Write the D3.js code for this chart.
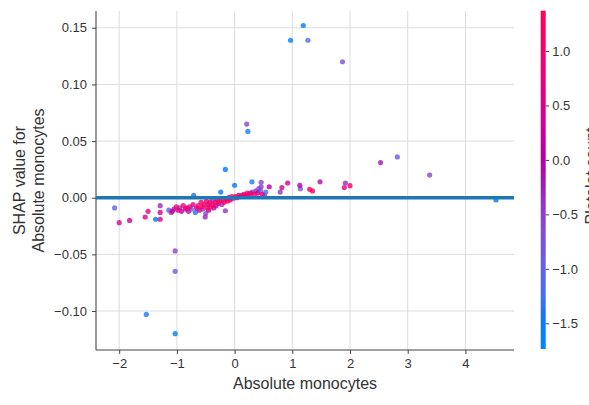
<!DOCTYPE html>
<html>

<head>
  <meta charset="utf-8">
  <title>SHAP dependence plot</title>
  <script src="https://d3js.org/d3.v7.min.js"></script>
  <style type="text/css">
    body {
      margin: 0;
      background: #fff;
      overflow: hidden;
    }

    svg text {
      font-family: "Liberation Sans", Arial, sans-serif;
      fill: #333;
    }

    .grid line {
      stroke: #dcdcdc;
      stroke-width: 1;
    }
  </style>
</head>

<body>
  <svg id="chart"></svg>
  <script>
    // values (feature value, SHAP value, platelet count)
    var xVals = [
      -2.08, -2.00, -1.82, -1.55, -1.50, -1.37, -1.29, -1.29, -1.29, -1.14,
      -1.10, -1.08, -1.05, -1.03, -1.03, -1.53, -1.03, -1.01, -0.98, -0.95,
      -0.92, -0.89, -0.85, -0.83, -0.80, -0.78, -0.75, -0.72, -0.71, -0.68,
      -0.66, -0.63, -0.61, -0.58, -0.56, -0.55, -0.53, -0.51, -0.50, -0.49,
      -0.47, -0.46, -0.45, -0.43, -0.41, -0.39, -0.38, -0.36, -0.34, -0.32,
      -0.30, -0.28, -0.26, -0.24, -0.22, -0.20, -0.18, -0.16, -0.16, -0.14,
      -0.12, -0.10, -0.08, -0.05, -0.03, 0.00, 0.01, 0.04, 0.07, 0.10,
      0.13, 0.16, 0.19, 0.21, 0.23, 0.22, 0.25, 0.28, 0.30, 0.31,
      0.34, 0.37, 0.40, 0.42, 0.45, 0.46, 0.46, 0.48, 0.52, 0.54,
      0.60, 0.79, 0.82, 0.92, 0.97, 1.13, 1.14, 1.19, 1.27, 1.30,
      1.35, 1.48, 1.87, 1.90, 1.92, 2.00, 2.53, 2.82, 3.38, 4.53
    ];
    var shapVals = [
      -0.009, -0.022, -0.020, -0.017, -0.012, -0.019, -0.019, -0.013, -0.007, -0.011,
      -0.013, -0.012, -0.010, -0.047, -0.065, -0.103, -0.120, -0.008, -0.011, -0.009,
      -0.012, -0.007, -0.010, -0.009, -0.012, -0.008, -0.010, -0.006, 0.002, -0.013,
      -0.009, -0.007, -0.011, -0.004, -0.008, -0.010, -0.006, -0.017, -0.014, -0.003,
      -0.009, -0.006, -0.011, -0.004, -0.008, -0.002, -0.006, -0.009, -0.004, -0.007,
      -0.002, -0.005, -0.003, 0.005, -0.006, -0.002, -0.004, 0.025, -0.0115, -0.001,
      -0.003, 0.000, -0.002, 0.001, -0.001, 0.011, 0.001, 0.000, 0.002, 0.001,
      0.002, 0.003, 0.002, 0.065, 0.0585, 0.004, 0.003, 0.004, 0.014, 0.005,
      0.003, 0.006, 0.004, 0.008, 0.006, 0.0136, 0.0097, 0.003, 0.002, 0.005,
      0.0097, 0.005, 0.009, 0.013, 0.139, 0.011, 0.008, 0.152, 0.139, 0.0074,
      0.006, 0.014, 0.120, 0.009, 0.013, 0.0106, 0.031, 0.036, 0.020, -0.002
    ];
    var plateletVals = [
      -1.0, 0.5, 0.4, 0.5, 0.6, -1.5, 0.5, 0.4, -0.3, -1.0,
      -0.6, 0.3, -0.2, -0.6, -0.9, -1.4, -1.5, 0.8, 0.6, -0.4,
      0.2, 1.0, 0.7, 0.3, -0.2, 0.9, -0.7, 0.5, -1.4, -1.4,
      0.1, 1.1, 0.4, 0.8, 1.2, -0.5, 1.0, -0.3, -0.6, 0.9,
      1.3, 0.6, 0.2, 1.1, 0.7, -0.5, 1.2, 0.3, 0.9, -0.2,
      1.0, 0.5, 1.3, -1.5, -0.4, 0.8, 1.1, -1.5, -0.4, 0.6,
      1.2, 0.2, 0.9, 1.0, -0.6, -1.5, 1.3, 0.7, 0.4, 1.1,
      -0.3, 0.9, 0.2, -0.6, -1.4, 1.2, -0.5, 0.6, -1.4, -0.8,
      1.0, -0.4, 0.3, -0.7, -0.9, -0.6, -0.5, 0.8, -1.2, -1.3,
      0.0, -0.4, 0.4, 0.3, -1.6, 0.0, -0.8, -1.5, -1.1, 1.2,
      1.2, -0.1, -0.7, 0.8, -0.3, 1.1, -0.2, -0.9, -0.6, -1.5
    ];

    var xTicks = [-2, -1, 0, 1, 2, 3, 4];
    var yTicks = [-0.10, -0.05, 0.00, 0.05, 0.10, 0.15];
    var cbTicks = [-1.5, -1.0, -0.5, 0.0, 0.5, 1.0];

    var xLabel = "Absolute monocytes";
    var yLabelLines = ["SHAP value for", "Absolute monocytes"];
    var cbLabel = "Platelet count";

    var W = 589, H = 405;
    var margin = { top: 11, right: 75, bottom: 55, left: 96 };
    var width = W - margin.left - margin.right,
      height = H - margin.top - margin.bottom;

    var minus = function (s) { return s.replace("-", "\u2212"); };

    // shap red_blue colour map (lch, lightness dips in the middle)
    function shapColor(t) {
      t = Math.max(0, Math.min(1, t));
      var l = t < 0.5 ? 54 + (40 - 54) * (t / 0.5) : 40 + (54 - 40) * ((t - 0.5) / 0.5);
      var c = 70 + 20 * t;
      var h = (4.6588 + ((0.35470565 + 2 * Math.PI) - 4.6588) * t) * 180 / Math.PI;
      return d3.hcl(h % 360, c, l).formatHex();
    }

    var svg = d3.select("#chart")
      .attr("width", W)
      .attr("height", H);

    var chart = svg.append("g")
      .attr("transform", "translate(" + margin.left + "," + margin.top + ")");

    var x = d3.scaleLinear().domain([-2.402, 4.842]).range([0, width]);
    var y = d3.scaleLinear().domain([-0.1344, 0.1648]).range([height, 0]);
    var cScale = d3.scaleLinear().domain([-1.736, 1.37]).range([0, 1]);

    // grid
    chart.append("g").attr("class", "grid")
      .selectAll("line").data(xTicks).enter().append("line")
      .attr("x1", function (d) { return x(d); })
      .attr("x2", function (d) { return x(d); })
      .attr("y1", 0).attr("y2", height);
    chart.append("g").attr("class", "grid")
      .selectAll("line").data(yTicks).enter().append("line")
      .attr("x1", 0).attr("x2", width)
      .attr("y1", function (d) { return y(d); })
      .attr("y2", function (d) { return y(d); });

    // axes
    var xAxis = chart.append("g")
      .attr("transform", "translate(0," + height + ")")
      .call(d3.axisBottom(x).tickValues(xTicks).tickSize(4).tickPadding(5)
        .tickFormat(function (d) { return minus(d3.format("d")(d)); }));
    var yAxis = chart.append("g")
      .call(d3.axisLeft(y).tickValues(yTicks).tickSize(4).tickPadding(5)
        .tickFormat(function (d) { return minus(d3.format(".2f")(d)); }));

    [xAxis, yAxis].forEach(function (a) {
      a.select(".domain").attr("stroke", "#444").attr("stroke-width", 1.1);
      a.selectAll(".tick line").attr("stroke", "#444");
      a.selectAll("text").attr("font-size", 13).attr("fill", "#333")
        .attr("font-family", "'Liberation Sans', Arial, sans-serif");
    });
    // keep only left and bottom spine segments within the plot
    xAxis.select(".domain").attr("d", "M0,0H" + width);
    yAxis.select(".domain").attr("d", "M0," + height + "V0");

    // dots
    var points = xVals.map(function (v, i) {
      return { x: v, y: shapVals[i], c: plateletVals[i] };
    });
    points.sort(function (a, b) { return a.c - b.c; });

    chart.append("g").selectAll("circle")
      .data(points).enter().append("circle")
      .attr("cx", function (d) { return x(d.x); })
      .attr("cy", function (d) { return y(d.y); })
      .attr("r", 2.6)
      .attr("fill", function (d) { return shapColor(cScale(d.c)); })
      .attr("fill-opacity", 0.8);

    // zero line
    chart.append("line")
      .attr("x1", 0).attr("x2", width)
      .attr("y1", y(0)).attr("y2", y(0))
      .attr("stroke", "#1f77b4")
      .attr("stroke-width", 3.4);

    // axis labels
    svg.append("text")
      .attr("x", margin.left + width / 2)
      .attr("y", 389)
      .attr("text-anchor", "middle")
      .attr("font-size", 16)
      .text(xLabel);

    svg.append("g")
      .attr("transform", "translate(25," + (margin.top + height / 2) + ") rotate(-90)")
      .selectAll("text").data(yLabelLines).enter().append("text")
      .attr("x", 0)
      .attr("y", function (d, i) { return i * 18.5; })
      .attr("text-anchor", "middle")
      .attr("font-size", 16)
      .text(function (d) { return d; });

    // colour bar
    var cbX = 540.7, cbW = 5;
    var cbY = d3.scaleLinear().domain([-1.736, 1.37]).range([349, 10.7]);
    var defs = svg.append("defs");
    var grad = defs.append("linearGradient")
      .attr("id", "cbgrad")
      .attr("x1", 0).attr("y1", 1).attr("x2", 0).attr("y2", 0);
    d3.range(0, 1.0001, 0.05).forEach(function (t) {
      grad.append("stop")
        .attr("offset", t)
        .attr("stop-color", shapColor(t));
    });
    svg.append("rect")
      .attr("x", cbX).attr("y", cbY(1.37))
      .attr("width", cbW).attr("height", cbY(-1.736) - cbY(1.37))
      .attr("fill", "url(#cbgrad)");

    var cbAxis = svg.append("g")
      .attr("transform", "translate(" + (cbX + cbW) + ",0)")
      .call(d3.axisRight(cbY).tickValues(cbTicks).tickSize(3.5).tickPadding(3)
        .tickFormat(function (d) { return minus(d3.format(".1f")(d)); }));
    cbAxis.select(".domain").remove();
    cbAxis.selectAll(".tick line").attr("stroke", "#444");
    cbAxis.selectAll("text").attr("font-size", 13).attr("fill", "#333")
      .attr("font-family", "'Liberation Sans', Arial, sans-serif");

    svg.append("text")
      .attr("transform", "translate(597,176) rotate(-90)")
      .attr("text-anchor", "middle")
      .attr("font-size", 16)
      .text(cbLabel);
  </script>
</body>

</html>
